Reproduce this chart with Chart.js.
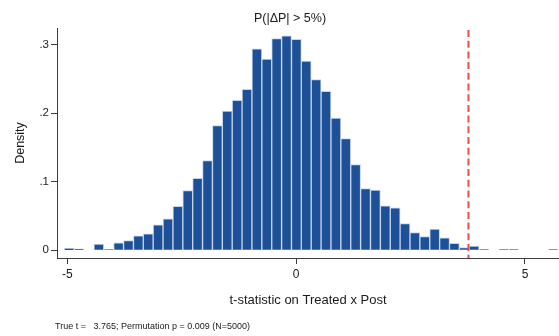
<!DOCTYPE html>
<html>
<head>
<meta charset="utf-8">
<script src="https://cdn.jsdelivr.net/npm/chart.js@4.4.1/dist/chart.umd.min.js"></script>
<style>
  html, body { margin: 0; padding: 0; background: #fff; }
  #wrap { width: 559px; height: 336px; position: relative; }
</style>
</head>
<body>
<div id="wrap"><canvas id="c"></canvas></div>
<script>
// Permutation distribution of the t-statistic (50 bins, density scale)
const binCenters = [
  -4.958, -4.742, -4.526, -4.311, -4.095, -3.879, -3.663, -3.447, -3.232, -3.016,
  -2.800, -2.584, -2.368, -2.153, -1.937, -1.721, -1.505, -1.289, -1.074, -0.858,
  -0.642, -0.426, -0.210,  0.006,  0.221,  0.437,  0.653,  0.869,  1.085,  1.300,
   1.516,  1.732,  1.948,  2.164,  2.379,  2.595,  2.811,  3.027,  3.243,  3.458,
   3.674,  3.890,  4.106,  4.322,  4.537,  4.753,  4.969,  5.185,  5.401,  5.616
];
const densities = [
  0.003, 0.002, 0.000, 0.009, 0.001, 0.011, 0.014, 0.021, 0.024, 0.037,
  0.046, 0.064, 0.087, 0.105, 0.131, 0.182, 0.203, 0.219, 0.235, 0.294,
  0.279, 0.309, 0.313, 0.308, 0.276, 0.249, 0.232, 0.193, 0.163, 0.125,
  0.090, 0.088, 0.065, 0.062, 0.039, 0.026, 0.020, 0.031, 0.018, 0.010,
  0.004, 0.006, 0.001, 0.000, 0.001, 0.001, 0.000, 0.000, 0.000, 0.001
];
const trueT = 3.765;
const xTickValues = [-5, 0, 5];
const xTickLabels = ['-5', '0', '5'];
const yTickValues = [0, 0.1, 0.2, 0.3];
const yTickLabels = ['0', '.1', '.2', '.3'];
const titleText = 'P(|\u0394P| > 5%)';
const xTitleText = 't-statistic on Treated x Post';
const yTitleText = 'Density';
const noteText = 'True t =   3.765; Permutation p = 0.009 (N=5000)';

const FONT = '"Liberation Sans", Arial, Helvetica, sans-serif';
const AXIS_COLOR = '#3c3c3c';

// Dashed vertical reference line at the observed t, plus title / x title / note
const decorations = {
  id: 'decorations',
  afterDatasetsDraw(chart) {
    const {ctx, chartArea, scales} = chart;
    const x = scales.x.getPixelForValue(trueT);
    ctx.save();
    ctx.strokeStyle = 'rgba(232, 70, 66, 0.95)';
    ctx.lineWidth = 2;
    ctx.setLineDash([7, 3.7]);
    ctx.beginPath();
    ctx.moveTo(x, chartArea.top + 2);
    ctx.lineTo(x, chartArea.bottom);
    ctx.stroke();
    ctx.restore();
  },
  afterDraw(chart) {
    const {ctx, chartArea} = chart;
    ctx.save();
    ctx.fillStyle = '#1a1a1a';
    ctx.textBaseline = 'middle';
    ctx.textAlign = 'center';
    ctx.font = '12.5px ' + FONT;
    ctx.fillText(titleText, 290, 19);
    ctx.font = '13px ' + FONT;
    ctx.fillText(xTitleText, (chartArea.left + chartArea.right) / 2, 300);
    ctx.textAlign = 'left';
    ctx.font = '9px ' + FONT;
    ctx.fillText(noteText, 55, 327);
    ctx.restore();
  }
};

new Chart(document.getElementById('c'), {
  type: 'bar',
  data: {
    datasets: [{
      data: binCenters.map((c, i) => ({x: c, y: densities[i]})),
      backgroundColor: '#1d5097',
      borderColor: 'rgba(196, 212, 236, 1)',
      borderWidth: 1,
      borderSkipped: 'bottom',
      barPercentage: 1.0,
      categoryPercentage: 1.0
    }]
  },
  options: {
    responsive: true,
    maintainAspectRatio: false,
    animation: false,
    devicePixelRatio: 1,
    layout: { padding: { top: 28, right: 0, left: 0, bottom: 0 } },
    plugins: {
      legend: { display: false },
      title: { display: false },
      tooltip: { enabled: false }
    },
    scales: {
      x: {
        type: 'linear',
        min: -5.225,
        max: 5.743,
        offset: false,
        afterFit(scale) { scale.height = 78; },
        afterBuildTicks(scale) { scale.ticks = xTickValues.map(v => ({value: v})); },
        ticks: {
          autoSkip: false,
          maxRotation: 0,
          padding: 3,
          color: '#1a1a1a',
          font: { family: FONT, size: 12 },
          callback: (v) => xTickLabels[xTickValues.indexOf(v)]
        },
        grid: {
          offset: false,
          drawOnChartArea: false,
          drawTicks: true,
          tickLength: 6,
          color: AXIS_COLOR
        },
        border: { display: true, color: AXIS_COLOR, width: 1 }
      },
      y: {
        type: 'linear',
        min: -0.01126,
        max: 0.3244,
        afterFit(scale) { scale.width = 57; },
        afterBuildTicks(scale) { scale.ticks = yTickValues.map(v => ({value: v})); },
        ticks: {
          autoSkip: false,
          padding: 2,
          color: '#1a1a1a',
          font: { family: FONT, size: 11.5 },
          callback: (v) => yTickLabels[yTickValues.indexOf(v)]
        },
        grid: {
          drawOnChartArea: false,
          drawTicks: true,
          tickLength: 6,
          color: AXIS_COLOR
        },
        border: { display: true, color: AXIS_COLOR, width: 1 },
        title: {
          display: true,
          text: yTitleText,
          color: '#1a1a1a',
          font: { family: FONT, size: 12.5 },
          padding: { top: 13, bottom: 0 }
        }
      }
    }
  },
  plugins: [decorations]
});
</script>
</body>
</html>
